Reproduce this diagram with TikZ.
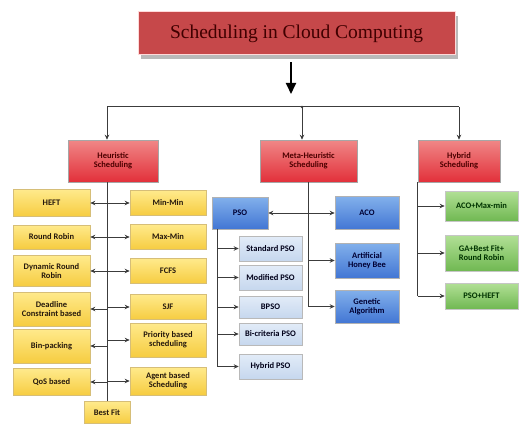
\documentclass[tikz,border=0pt]{standalone}
\usepackage{fontspec}
\setmainfont{Carlito}
\newfontfamily\titlefont{Liberation Serif}
\usetikzlibrary{shadows, arrows.meta}

\definecolor{redtop}{RGB}{240,135,135}
\definecolor{redbot}{RGB}{226,48,58}
\definecolor{titlered}{RGB}{198,72,74}
\definecolor{yeltop}{RGB}{255,234,140}
\definecolor{yelbot}{RGB}{246,204,64}
\definecolor{yeledge}{RGB}{214,190,120}
\definecolor{bluetop}{RGB}{130,176,235}
\definecolor{bluebot}{RGB}{66,118,212}
\definecolor{subtop}{RGB}{226,236,248}
\definecolor{subbot}{RGB}{198,215,238}
\definecolor{greentop}{RGB}{178,224,150}
\definecolor{greenbot}{RGB}{112,184,82}
\definecolor{linegray}{RGB}{60,60,60}

\begin{document}
\begin{tikzpicture}[x=1pt, y=-1pt, >={Stealth[length=5pt,width=4.5pt]},
  every node/.style={font=\fontsize{8.5}{9}\selectfont\bfseries, align=center, inner sep=1pt},
  redbox/.style={draw=gray!70, line width=0.6pt, top color=redtop, bottom color=redbot, text=red!30!black},
  yelbox/.style={draw=yeledge, line width=0.6pt, top color=yeltop, bottom color=yelbot, text=black!80!brown},
  bluebox/.style={draw=gray!60, line width=0.6pt, top color=bluetop, bottom color=bluebot, text=blue!20!black},
  subbox/.style={draw=gray!55, line width=0.6pt, top color=subtop, bottom color=subbot, text=blue!10!black},
  greenbox/.style={draw=gray!45, line width=0.6pt, top color=greentop, bottom color=greenbot, text=green!20!black},
  trunk/.style={draw=linegray, line width=1pt},
  link/.style={->, draw=linegray, line width=1pt}]

\useasboundingbox (0,0) rectangle (520,428);

% Title
\node[draw=red!15, line width=1pt, fill=titlered, minimum width=317, minimum height=43,
  drop shadow={shadow xshift=3pt, shadow yshift=-4pt, fill=gray!55, opacity=1},
  font=\titlefont\fontsize{19.5}{22}\selectfont, text=red!25!black] at (296.5,33.5) (title) {Scheduling in Cloud Computing};

% Split point
\coordinate (tip) at (291,94);
\coordinate (split) at (302,107);
\coordinate (barL) at (107,107);
\coordinate (barR) at (459,107);

% Main categories
\node[redbox, minimum width=90, minimum height=42] at (113,161) (heur) {Heuristic\\Scheduling};
\node[redbox, minimum width=97, minimum height=42] at (308.5,161) (meta) {Meta-Heuristic\\Scheduling};
\node[redbox, minimum width=82, minimum height=42] at (459,161) (hybrid) {Hybrid\\Scheduling};

% Heuristic, left column
\node[yelbox, minimum width=77, minimum height=27] at (51.5,203) (heft) {HEFT};
\node[yelbox, minimum width=77, minimum height=24] at (51.5,237) (rr) {Round Robin};
\node[yelbox, minimum width=77, minimum height=31] at (51.5,271) (drr) {Dynamic Round\\Robin};
\node[yelbox, minimum width=77, minimum height=34] at (51.5,309) (dcb) {Deadline\\Constraint based};
\node[yelbox, minimum width=77, minimum height=34] at (51.5,346) (binpack) {Bin-packing};
\node[yelbox, minimum width=77, minimum height=27] at (51.5,382) (qos) {QoS based};

% Heuristic, right column
\node[yelbox, minimum width=76, minimum height=25] at (168,203) (minmin) {Min-Min};
\node[yelbox, minimum width=76, minimum height=25] at (168,237) (maxmin) {Max-Min};
\node[yelbox, minimum width=76, minimum height=25] at (168,271) (fcfs) {FCFS};
\node[yelbox, minimum width=76, minimum height=25] at (168,307) (sjf) {SJF};
\node[yelbox, minimum width=76, minimum height=34] at (168,340) (priority) {Priority based\\scheduling};
\node[yelbox, minimum width=76, minimum height=28] at (168,381) (agent) {Agent based\\Scheduling};

\node[yelbox, minimum width=46, minimum height=22] at (107,412.5) (bestfit) {Best Fit};

% Meta-heuristic
\node[bluebox, minimum width=56, minimum height=32] at (240,213) (pso) {PSO};
\node[bluebox, minimum width=64, minimum height=33] at (367,213) (aco) {ACO};
\node[bluebox, minimum width=64, minimum height=35] at (367,260.5) (ahb) {Artificial\\Honey Bee};
\node[bluebox, minimum width=64, minimum height=33] at (367,306.5) (ga) {Genetic\\Algorithm};

% PSO variants
\node[subbox, minimum width=63, minimum height=25] at (270.5,248.5) (spso) {Standard PSO};
\node[subbox, minimum width=63, minimum height=25] at (270.5,277.5) (mpso) {Modified PSO};
\node[subbox, minimum width=63, minimum height=22] at (270.5,307) (bpso) {BPSO};
\node[subbox, minimum width=63, minimum height=22] at (270.5,334) (bcpso) {Bi-criteria PSO};
\node[subbox, minimum width=63, minimum height=25] at (270.5,366.5) (hpso) {Hybrid PSO};

% Hybrid
\node[greenbox, minimum width=73, minimum height=30] at (481.5,206) (acomax) {ACO+Max-min};
\node[greenbox, minimum width=73, minimum height=36] at (481.5,253) (gabf) {GA+Best Fit+\\Round Robin};
\node[greenbox, minimum width=73, minimum height=26] at (481.5,296) (psoheft) {PSO+HEFT};

% Connections
\draw[-{Triangle[length=11pt,width=10pt]}, draw=black, line width=1.8pt] ([yshift=-7pt]title.south -| tip) -- (tip);
\draw[trunk] (barL) -- (barR);
\fill[linegray] (split) circle (1.3);
\draw[link] (barL) -- (barL |- heur.north);
\draw[link] (split) -- (split |- meta.north);
\draw[link] (barR) -- (hybrid.north);

\draw[trunk] (heur.south -| bestfit) -- (bestfit);
\foreach \nd in {heft,rr,drr,dcb,binpack,qos,minmin,maxmin,fcfs,sjf,priority,agent} {
  \draw[link] (\nd -| bestfit) -- (\nd);
}

\draw[trunk] (meta.south) -- (meta |- ga);
\foreach \nd in {pso,aco,ahb,ga} {
  \draw[link] (\nd -| meta) -- (\nd);
}

\coordinate (psotrunk) at ([xshift=6pt]pso.south west);
\draw[trunk] (psotrunk) -- (psotrunk |- hpso);
\foreach \nd in {spso,mpso,bpso,bcpso,hpso} {
  \draw[link] (\nd -| psotrunk) -- (\nd);
}

\draw[trunk] (hybrid.south west) -- (hybrid.south west |- psoheft);
\foreach \nd in {acomax,gabf,psoheft} {
  \draw[link] (\nd -| hybrid.south west) -- (\nd);
}

\end{tikzpicture}
\end{document}
